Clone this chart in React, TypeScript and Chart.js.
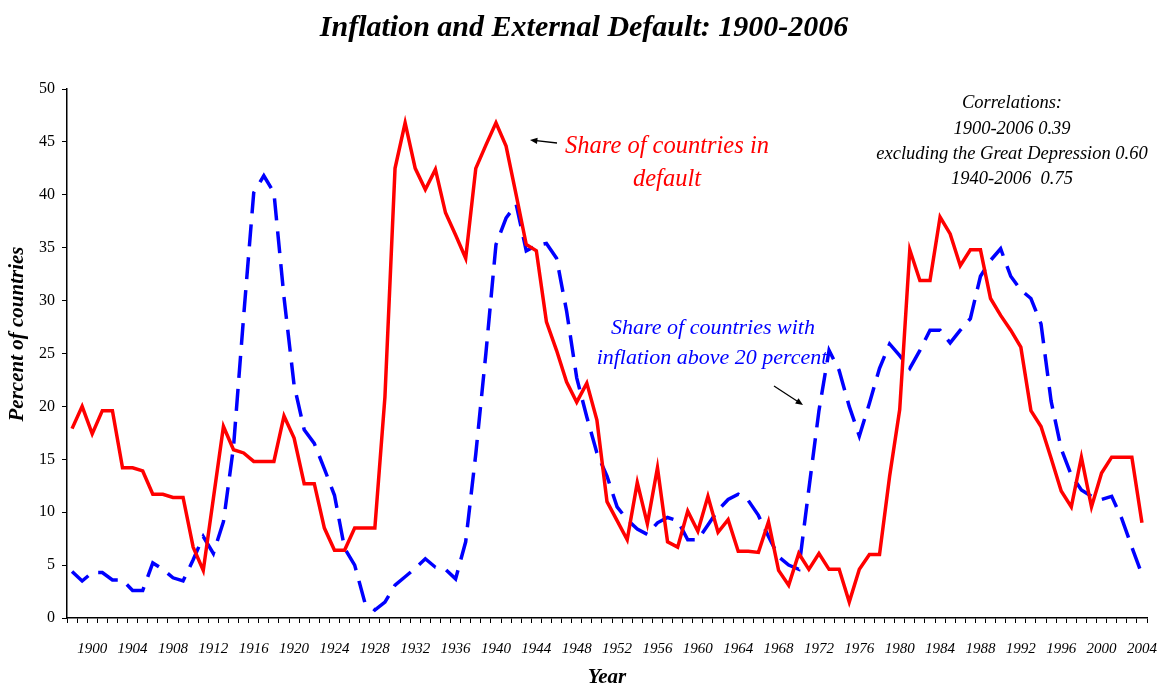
import React, { useEffect, useRef } from 'react';
import { Chart, registerables } from 'chart.js';

Chart.register(...registerables);

// Category years (one per data point) and tick label step
const firstYear = 1898;
const lastYear = 2004;
const labelEvery = 4;
const years: string[] = [];
for (let y = firstYear; y <= lastYear; y++) years.push(String(y));

const yTicks = { min: 0, max: 50, step: 5 };

// Share of countries in default (percent)
const defaultShare = [
  17.9, 20.0, 17.4, 19.6, 19.6, 14.2, 14.2, 13.9, 11.7, 11.7,
  11.4, 11.4, 6.7, 4.5, 11.3, 18.1, 15.9, 15.6, 14.8, 14.8,
  14.8, 19.1, 17.0, 12.7, 12.7, 8.5, 6.4, 6.4, 8.5, 8.5,
  8.5, 20.9, 42.5, 46.8, 42.5, 40.5, 42.4, 38.3, 36.2, 34.0,
  42.5, 44.7, 46.8, 44.6, 40.0, 35.3, 34.7, 28.0, 25.3, 22.3,
  20.4, 22.2, 18.7, 11.0, 9.2, 7.4, 12.8, 8.9, 14.2, 7.2,
  6.7, 10.1, 8.2, 11.5, 8.1, 9.3, 6.3, 6.3, 6.2, 9.1,
  4.5, 3.1, 6.1, 4.6, 6.1, 4.6, 4.6, 1.5, 4.6, 6.0,
  6.0, 13.4, 19.7, 34.8, 31.9, 31.9, 37.9, 36.3, 33.3, 34.8,
  34.8, 30.2, 28.6, 27.2, 25.6, 19.6, 18.1, 15.1, 12.0, 10.5,
  15.2, 10.5, 13.7, 15.2, 15.2, 15.2, 9.0,
];

// Share of countries with inflation above 20 percent
const inflationShare = [
  4.4, 3.5, 4.3, 4.3, 3.6, 3.6, 2.6, 2.6, 5.2, 4.6,
  3.8, 3.5, 5.5, 7.7, 6.1, 9.1, 16.2, 28.5, 40.2, 41.8,
  40.2, 30.3, 22.0, 17.8, 16.5, 14.1, 11.6, 6.6, 5.0, 1.5,
  0.75, 1.5, 3.1, 3.9, 4.7, 5.6, 4.8, 4.6, 3.7, 7.2,
  15.5, 25.0, 35.3, 37.8, 39.1, 34.7, 35.2, 35.4, 34.0, 29.0,
  22.7, 19.0, 15.6, 13.4, 10.5, 9.3, 8.4, 7.9, 9.0, 9.5,
  9.2, 7.4, 7.4, 8.8, 10.2, 11.2, 11.7, 11.1, 9.7, 7.7,
  5.8, 5.0, 4.6, 12.2, 19.6, 25.3, 23.4, 20.0, 17.2, 20.3,
  23.6, 25.9, 24.8, 23.6, 25.3, 27.2, 27.2, 26.0, 27.2, 28.3,
  32.3, 33.8, 34.9, 32.3, 31.0, 30.2, 27.8, 20.5, 16.0, 13.5,
  12.1, 11.5, 11.2, 11.5, 9.4, 6.7, 4.1,
];

const titleText = 'Inflation and External Default: 1900-2006';
const yTitle = 'Percent of countries';
const xTitle = 'Year';
const defaultNote = ['Share of countries in', 'default'];
const inflationNote = ['Share of countries with', 'inflation above 20 percent'];
const correlationNote = [
  'Correlations:',
  '1900-2006 0.39',
  'excluding the Great Depression 0.60',
  '1940-2006  0.75',
];

const SERIF = '"Liberation Serif", "DejaVu Serif", serif';

function arrow(ctx: CanvasRenderingContext2D, x1: number, y1: number, x2: number, y2: number) {
  const ang = Math.atan2(y2 - y1, x2 - x1);
  const head = 8;
  ctx.beginPath();
  ctx.moveTo(x1, y1);
  ctx.lineTo(x2 - Math.cos(ang) * 4, y2 - Math.sin(ang) * 4);
  ctx.strokeStyle = '#000';
  ctx.lineWidth = 1.3;
  ctx.stroke();
  ctx.beginPath();
  ctx.moveTo(x2, y2);
  ctx.lineTo(x2 - head * Math.cos(ang - 0.4), y2 - head * Math.sin(ang - 0.4));
  ctx.lineTo(x2 - head * Math.cos(ang + 0.4), y2 - head * Math.sin(ang + 0.4));
  ctx.closePath();
  ctx.fillStyle = '#000';
  ctx.fill();
}

const notesPlugin = {
  id: 'notes',
  afterDraw(chart: any) {
    const ctx: CanvasRenderingContext2D = chart.ctx;
    ctx.save();
    ctx.textAlign = 'center';
    ctx.textBaseline = 'middle';

    // main title
    ctx.fillStyle = '#000';
    ctx.font = `italic bold 30px ${SERIF}`;
    ctx.fillText(titleText, 584, 28);

    // axis titles
    ctx.font = `italic bold 21px ${SERIF}`;
    ctx.fillText(xTitle, 607, 678);
    ctx.save();
    ctx.translate(18, 334);
    ctx.rotate(-Math.PI / 2);
    ctx.fillText(yTitle, 0, 0);
    ctx.restore();

    // annotations
    ctx.fillStyle = '#ff0000';
    ctx.font = `italic 24.5px ${SERIF}`;
    ctx.fillText(defaultNote[0], 667, 147);
    ctx.fillText(defaultNote[1], 667, 180);
    arrow(ctx, 557, 143, 530, 140);

    ctx.fillStyle = '#0000ff';
    ctx.font = `italic 22px ${SERIF}`;
    ctx.fillText(inflationNote[0], 713, 328);
    ctx.fillText(inflationNote[1], 712, 358);
    arrow(ctx, 774, 386, 803, 405);

    ctx.fillStyle = '#000';
    ctx.font = `italic 18.5px ${SERIF}`;
    const ys = [103, 129, 154, 179];
    correlationNote.forEach((t, i) => ctx.fillText(t, 1012, ys[i]));
    ctx.restore();
  },
};

export default function App() {
  const ref = useRef<HTMLCanvasElement | null>(null);

  useEffect(() => {
    document.body.style.margin = '0';
    const canvas = ref.current;
    if (!canvas) return;
    const chart = new Chart(canvas, {
      type: 'line',
      data: {
        labels: years,
        datasets: [
          {
            label: 'Share of countries in default',
            data: defaultShare,
            borderColor: '#ff0000',
            backgroundColor: '#ff0000',
            borderWidth: 3.5,
            pointRadius: 0,
            tension: 0,
            fill: false,
          },
          {
            label: 'Share of countries with inflation above 20 percent',
            data: inflationShare,
            borderColor: '#0000ff',
            backgroundColor: '#0000ff',
            borderWidth: 3.5,
            borderDash: [22, 11],
            pointRadius: 0,
            tension: 0,
            fill: false,
          },
        ],
      },
      options: {
        animation: false,
        responsive: false,
        maintainAspectRatio: false,
        layout: { padding: { top: 89, left: 0, right: 12, bottom: 0 } },
        plugins: {
          legend: { display: false },
          tooltip: { enabled: false },
          title: { display: false },
        },
        scales: {
          x: {
            type: 'category',
            offset: true,
            grid: {
              offset: true,
              drawOnChartArea: false,
              drawTicks: true,
              tickLength: 5,
              color: '#000',
            },
            border: { display: true, color: '#000', width: 1.5 },
            ticks: {
              autoSkip: false,
              maxRotation: 0,
              minRotation: 0,
              padding: 17,
              color: '#000',
              font: { family: SERIF, size: 15, style: 'italic' },
              callback: (_v: any, i: number) =>
                Number(years[i]) % labelEvery === 0 ? years[i] : '',
            },
            afterFit: (s: any) => {
              s.height = 67;
              s.paddingLeft = 0;
              s.paddingRight = 0;
            },
          },
          y: {
            min: yTicks.min,
            max: yTicks.max,
            grid: {
              drawOnChartArea: false,
              drawTicks: true,
              tickLength: 5,
              color: '#000',
            },
            border: { display: true, color: '#000', width: 1.5 },
            ticks: {
              stepSize: yTicks.step,
              padding: 7,
              color: '#000',
              font: { family: SERIF, size: 16 },
            },
            afterFit: (s: any) => {
              s.width = 67;
            },
          },
        },
      },
      plugins: [notesPlugin],
    } as any);
    return () => chart.destroy();
  }, []);

  return (
    <div style={{ width: 1159, height: 685, background: '#fff' }}>
      <canvas ref={ref} width={1159} height={685} style={{ display: 'block' }} />
    </div>
  );
}
